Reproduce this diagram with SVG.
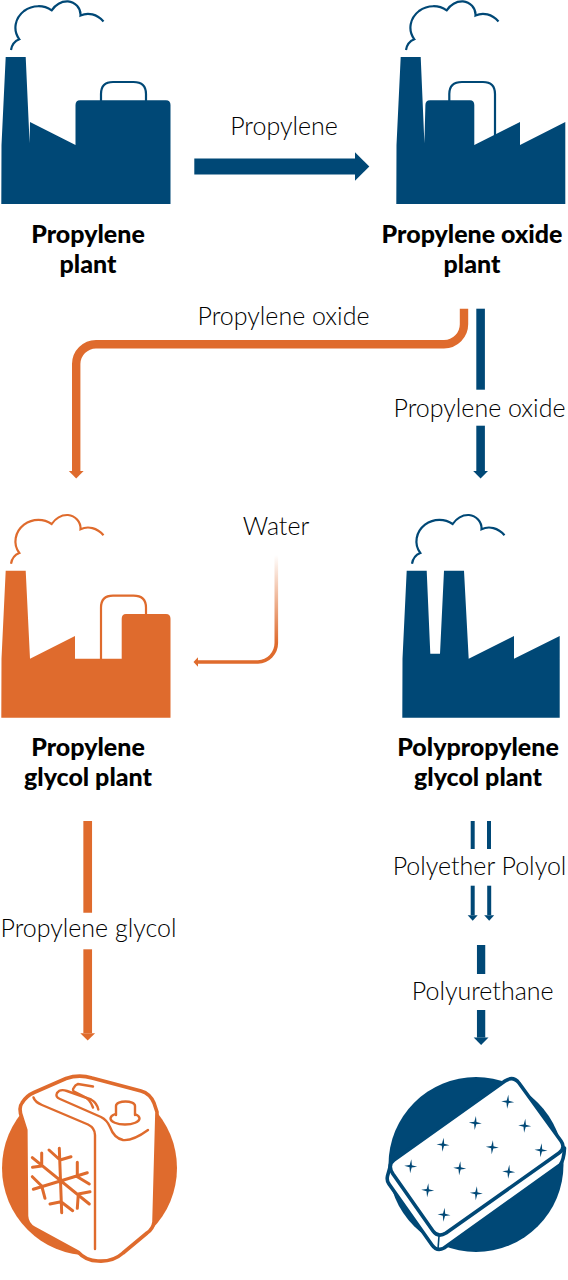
<svg xmlns="http://www.w3.org/2000/svg" width="568" height="1280" viewBox="0 0 568 1280">
<style>
.b{fill:#004876}.o{fill:#df6b2d}
.ls{fill:none;stroke-linejoin:round}
.sb{stroke:#004876}.so{stroke:#df6b2d}
.pipe{fill:none;stroke-width:2.2}
.cloud{fill:none;stroke-width:2.2}
.lab{font-family:"Lato","Liberation Sans",sans-serif;font-weight:300;font-size:25px;fill:#000;text-anchor:middle}
.name{font-family:"Lato","Liberation Sans",sans-serif;font-weight:900;font-size:25px;fill:#000;text-anchor:middle}
.can{fill:none;stroke:#df6b2d;stroke-width:2.4;stroke-linecap:round;stroke-linejoin:round}
.mat{fill:#fff;stroke:#004876;stroke-width:3.6;stroke-linejoin:round}
</style>
<defs>
<path id="cloud" d="M11,50 C12,44 15,41 19.3,39.3 C12.5,30 15,18 24,11 C33,4.5 44,5 51.7,10.3 C56,4 62,1 68,1.3 C75,2 81,8 80.5,15.5 C88,12 97,14 103.5,21.5"/>
<path id="star" d="M0,-7 L1.1,-1.1 L6.5,0 L1.1,1.1 L0,7 L-1.1,1.1 L-6.5,0 L-1.1,-1.1Z"/>
<linearGradient id="water" gradientUnits="userSpaceOnUse" x1="0" y1="555" x2="0" y2="643"><stop offset="0" stop-color="#df6b2d" stop-opacity="0"/><stop offset="1" stop-color="#df6b2d"/></linearGradient>
<marker id="hbBig" markerUnits="userSpaceOnUse" markerWidth="16" markerHeight="30" refX="0" refY="15" orient="auto" overflow="visible"><path class="b" d="M0,.8L14.3,15L0,29.2Z"/></marker>
<marker id="hb" markerUnits="userSpaceOnUse" markerWidth="8" markerHeight="16" refX="0" refY="8" orient="auto" overflow="visible"><path class="b" d="M0,.6L7.4,8L0,15.4Z"/></marker>
<marker id="ho" markerUnits="userSpaceOnUse" markerWidth="8" markerHeight="16" refX="0" refY="8" orient="auto" overflow="visible"><path class="o" d="M0,.6L7.4,8L0,15.4Z"/></marker>
<marker id="hbs" markerUnits="userSpaceOnUse" markerWidth="6" markerHeight="12" refX="0" refY="6" orient="auto" overflow="visible"><path class="b" d="M0,1L5.5,6L0,11Z"/></marker>
<marker id="hos" markerUnits="userSpaceOnUse" markerWidth="6" markerHeight="12" refX="0" refY="6" orient="auto" overflow="visible"><path class="o" d="M0,1.3L4.5,6L0,10.7Z"/></marker>
</defs>

<g id="propylene-plant">
<use href="#cloud" class="cloud sb"/>
<path class="b" d="M5.7,57H25.7L29.6,143L30,122L75.5,145V105Q75.5,100.3 80,100.3H166Q170.5,100.3 170.5,105V204H1.3L1.5,145Z"/>
<path class="pipe sb" d="M101,101V94Q101,82 113,82H133.5Q146,82 146,94V101"/>
<text class="name" x="88" y="243">Propylene</text><text class="name" x="88" y="273">plant</text>
</g>

<g id="propylene-oxide-plant">
<g transform="translate(395 0)">
<use href="#cloud" class="cloud sb"/>
<path class="b" d="M5.7,57H25.7L29.4,143L30.4,105Q30.4,100.3 35,100.3H75Q79.3,100.3 79.3,105V145L125,122V145L170.3,122V204H1.3L1.5,145Z"/>
<path class="pipe sb" d="M54.3,101V94Q54.3,82 67,82H88Q100,82 100,94V136"/>
</g>
<text class="name" x="472" y="243">Propylene oxide</text><text class="name" x="472" y="273">plant</text>
</g>

<g id="propylene-glycol-plant" transform="translate(0 513.7)">
<use href="#cloud" class="cloud so"/>
<path class="o" d="M5.7,57H25.7L30,145L75,122.3V145H121.7V105Q121.7,100.3 126,100.3H166Q170.5,100.3 170.5,105V204H1.3L1.5,145Z"/>
<path class="pipe so" d="M101,146V94Q101,82 113,82H133.5Q146,82 146,94V101"/>
<text class="name" x="88" y="242.3">Propylene</text><text class="name" x="88" y="272.3">glycol plant</text>
</g>

<g id="polypropylene-glycol-plant" transform="translate(401 513.7)">
<use href="#cloud" class="cloud sb"/>
<path class="b" d="M5.7,57H25.7L29.3,140H39L43,57H63L67.7,145L113,122.3V145L158.7,122.3V204H1.3L1.5,145Z"/>
<text class="name" x="77" y="242.3">Polypropylene</text><text class="name" x="77" y="272.3">glycol plant</text>
</g>

<g id="connectors" class="ls">
<path class="sb" stroke-width="16" d="M194.3,166.5H355" marker-end="url(#hbBig)"/>
<path class="so" stroke-width="8.4" d="M464,308.7V324A20,20 0 0 1 444,344.2H96A20,20 0 0 0 76.2,364V471" marker-end="url(#ho)"/>
<path class="sb" stroke-width="8.6" d="M480.6,308.7V389.7"/>
<path class="sb" stroke-width="8.6" d="M480.6,425.7V471" marker-end="url(#hb)"/>
<path stroke="url(#water)" stroke-width="3.6" d="M276.3,555V643" fill="none"/>
<path class="so" stroke-width="3.6" d="M276.3,643A19,19 0 0 1 258,662H198" marker-end="url(#hos)"/>
<path class="so" stroke-width="8.7" d="M87.7,821V912.7"/>
<path class="so" stroke-width="8.7" d="M87.7,949.3V1033.2" marker-end="url(#ho)"/>
<path class="sb" stroke-width="4" d="M472.7,821V849"/>
<path class="sb" stroke-width="4" d="M489,821V849"/>
<path class="sb" stroke-width="4" d="M472.7,885.7V915.2" marker-end="url(#hbs)"/>
<path class="sb" stroke-width="4" d="M489.2,885.7V915.2" marker-end="url(#hbs)"/>
<path class="sb" stroke-width="8.3" d="M481.1,945V974"/>
<path class="sb" stroke-width="8.3" d="M481.1,1010V1037.6" marker-end="url(#hb)"/>
</g>

<g id="connector-labels">
<text class="lab" x="284" y="135">Propylene</text>
<text class="lab" x="283.5" y="325">Propylene oxide</text>
<text class="lab" x="479.5" y="417">Propylene oxide</text>
<text class="lab" x="276" y="535">Water</text>
<text class="lab" x="88.5" y="937">Propylene glycol</text>
<text class="lab" x="479.5" y="875">Polyether Polyol</text>
<text class="lab" x="482.7" y="1000">Polyurethane</text>
</g>

<g id="jerry-can">
<circle class="o" cx="89.5" cy="1168" r="87.5"/>
<path fill="#fff" stroke="#df6b2d" stroke-width="3.6" stroke-linejoin="round" d="M34,1092.5L66,1078.5Q79,1074 92,1078L141,1091Q150,1093.5 154,1103L157,1112L154,1222Q153,1229 147,1233L123,1253Q113,1262 98,1261Q86,1261 78,1252L34,1228Q27,1224 26.5,1216L25.8,1130L22,1118Q18,1108 22,1103Q26,1096 34,1092.5Z"/>
<path class="can" d="M33.5,1097.5Q35,1102 42,1105L88,1124.5Q95,1128 95,1135V1249"/>
<path class="can" d="M98.3,1109.5Q97,1103 91,1099.5L67,1091Q60,1088.5 57,1093Q55,1097 60,1099L101,1117Q107,1120 110,1127Q114,1138 123,1140Q133,1141 148,1130"/>
<path class="can" stroke-width="2" d="M93,1107.5Q90,1099 83,1096L74,1091.5Q72,1090 74,1087.5Q75,1085 78,1084L93,1086.5"/>
<ellipse class="can" cx="125" cy="1118.5" rx="14.5" ry="6"/>
<path class="can" style="fill:#fff" d="M116,1115V1106C116,1100 135,1100 135,1106V1115"/>
<path class="can" stroke-linecap="butt" style="stroke-width:3" d="M59.3,1148.3L61.7,1212.7M32.3,1157.7L89.3,1204M87.3,1172.7L33.3,1189.3M49,1150L60,1160L71,1156.7M41.7,1153V1166L32.5,1167.3M32.3,1176.7L41.7,1186L45,1198.3M77.3,1162.3V1176.7L89.3,1184M90,1191.7L78.3,1194L77.3,1208.3M50,1204L61,1201.7L72.7,1210.7"/>
</g>

<g id="mattress">
<circle class="b" cx="476" cy="1164.5" r="87.5"/>
<path class="mat" d="M392,1160L387.5,1176Q386.5,1181 389,1184L432,1245Q437,1252 444,1248L560,1165Q564,1160 564.5,1148Z"/>
<path class="mat" d="M394,1160L505,1081Q513,1075.5 519,1083L561,1141Q566,1148 559,1153L446,1233Q438,1238 433,1231L393,1174Q387,1165 394,1160Z"/>
<path fill="none" stroke="#004876" stroke-width="1.6" d="M439,1236L438,1249"/>
<g class="b">
<use href="#star" transform="translate(507.7 1101.7) rotate(5)"/>
<use href="#star" transform="translate(475.3 1123) rotate(5)"/>
<use href="#star" transform="translate(524.7 1125.7) rotate(5)"/>
<use href="#star" transform="translate(443 1144.7) rotate(5)"/>
<use href="#star" transform="translate(492.3 1147.3) rotate(5)"/>
<use href="#star" transform="translate(541 1150.3) rotate(5)"/>
<use href="#star" transform="translate(410.7 1166.3) rotate(5)"/>
<use href="#star" transform="translate(459.7 1168.3) rotate(5)"/>
<use href="#star" transform="translate(508.7 1171.7) rotate(5)"/>
<use href="#star" transform="translate(427.7 1190.3) rotate(5)"/>
<use href="#star" transform="translate(476.3 1193.3) rotate(5)"/>
<use href="#star" transform="translate(444 1214.7) rotate(5)"/>
</g>
</g>
</svg>
